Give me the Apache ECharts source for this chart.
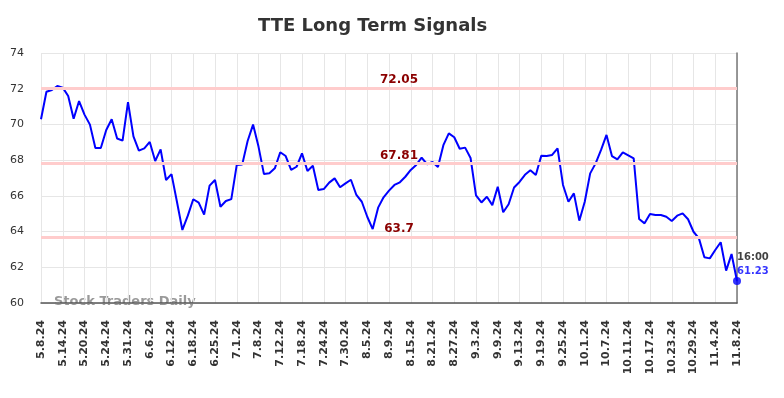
<!DOCTYPE html>
<html style="height: 100%;">
  <head>
    <meta charset="utf-8" />
  </head>
  <body style="height: 100%; margin: 0; background: #fff;">
    <div id="container" style="width: 784px; height: 398px;"></div>
    <script src="https://cdn.jsdelivr.net/npm/echarts@6/dist/echarts.min.js"></script>
    <script type="text/javascript">
      // trading days, May 8 to Nov 8 2024
      var dates = [
        "5.8.24", "5.9.24", "5.10.24", "5.13.24", "5.14.24", "5.15.24", "5.16.24", "5.17.24",
        "5.20.24", "5.21.24", "5.22.24", "5.23.24", "5.24.24", "5.28.24", "5.29.24", "5.30.24",
        "5.31.24", "6.3.24", "6.4.24", "6.5.24", "6.6.24", "6.7.24", "6.10.24", "6.11.24",
        "6.12.24", "6.13.24", "6.14.24", "6.17.24", "6.18.24", "6.20.24", "6.21.24", "6.24.24",
        "6.25.24", "6.26.24", "6.27.24", "6.28.24", "7.1.24", "7.2.24", "7.3.24", "7.5.24",
        "7.8.24", "7.9.24", "7.10.24", "7.11.24", "7.12.24", "7.15.24", "7.16.24", "7.17.24",
        "7.18.24", "7.19.24", "7.22.24", "7.23.24", "7.24.24", "7.25.24", "7.26.24", "7.29.24",
        "7.30.24", "7.31.24", "8.1.24", "8.2.24", "8.5.24", "8.6.24", "8.7.24", "8.8.24",
        "8.9.24", "8.12.24", "8.13.24", "8.14.24", "8.15.24", "8.16.24", "8.19.24", "8.20.24",
        "8.21.24", "8.22.24", "8.23.24", "8.26.24", "8.27.24", "8.28.24", "8.29.24", "8.30.24",
        "9.3.24", "9.4.24", "9.5.24", "9.6.24", "9.9.24", "9.10.24", "9.11.24", "9.12.24",
        "9.13.24", "9.16.24", "9.17.24", "9.18.24", "9.19.24", "9.20.24", "9.23.24", "9.24.24",
        "9.25.24", "9.26.24", "9.27.24", "9.30.24", "10.1.24", "10.2.24", "10.3.24", "10.4.24",
        "10.7.24", "10.8.24", "10.9.24", "10.10.24", "10.11.24", "10.14.24", "10.15.24", "10.16.24",
        "10.17.24", "10.18.24", "10.21.24", "10.22.24", "10.23.24", "10.24.24", "10.25.24", "10.28.24",
        "10.29.24", "10.30.24", "10.31.24", "11.1.24", "11.4.24", "11.5.24", "11.6.24", "11.7.24",
        "11.8.24"
      ];

      var prices = [
        70.29, 71.83, 71.93, 72.15, 72.06, 71.59, 70.32, 71.31,
        70.55, 69.99, 68.68, 68.68, 69.69, 70.29, 69.21, 69.09,
        71.25, 69.33, 68.53, 68.66, 69.02, 67.95, 68.6, 66.89,
        67.22, 65.67, 64.09, 64.89, 65.81, 65.62, 64.95, 66.57,
        66.89, 65.39, 65.71, 65.82, 67.73, 67.75, 69.07, 69.99,
        68.76, 67.22, 67.26, 67.54, 68.44, 68.23, 67.45, 67.63,
        68.38, 67.39, 67.69, 66.33, 66.38, 66.74, 66.98, 66.48,
        66.7, 66.9, 66.05, 65.67, 64.83, 64.14, 65.34, 65.92,
        66.29, 66.61, 66.76, 67.07, 67.45, 67.73, 68.14, 67.77,
        67.9, 67.62, 68.84, 69.5, 69.28, 68.64, 68.7, 68.12,
        66.03, 65.63, 65.95, 65.48, 66.51, 65.08, 65.53, 66.47,
        66.78, 67.18, 67.43, 67.17, 68.24, 68.23, 68.29, 68.66,
        66.61, 65.67, 66.14, 64.61, 65.67, 67.26, 67.82, 68.57,
        69.41, 68.23, 68.04, 68.44, 68.27, 68.1, 64.7, 64.46,
        64.98, 64.93, 64.93, 64.83, 64.59, 64.89, 65.02, 64.69,
        63.99, 63.62, 62.56, 62.5, 62.97, 63.4, 61.81, 62.74,
        61.23
      ];

      var signalLevels = [72.05, 67.81, 63.7];
      var yTicks = { min: 60, max: 74, step: 2 };
      var lastTime = "16:00";

      var dom = document.getElementById("container");
      var myChart = echarts.init(dom, null, { renderer: "canvas" });

      var lastIdx = dates.length - 1;
      var font = "DejaVu Sans";

      var option = {
        animation: false,
        backgroundColor: "#fff",
        textStyle: { fontFamily: font },
        title: {
          text: "TTE Long Term Signals",
          left: 258,
          top: 17,
          padding: 0,
          textStyle: { fontSize: 18, fontWeight: "bold", color: "#333", fontFamily: font },
        },
        grid: {
          left: 41,
          right: 47,
          top: 53,
          bottom: 95,
          containLabel: false,
          outerBoundsMode: "none",
        },
        xAxis: {
          type: "category",
          boundaryGap: false,
          data: dates,
          axisLine: { lineStyle: { color: "#555", width: 1.5 } },
          axisTick: { show: false },
          axisLabel: {
            interval: 3,
            rotate: 90,
            margin: 17,
            fontSize: 11,
            fontWeight: "bold",
            color: "#333",
            fontFamily: font,
          },
          splitLine: { show: true, interval: 3, lineStyle: { color: "#e6e6e6", width: 1 } },
        },
        yAxis: [
          {
            type: "value",
            min: yTicks.min,
            max: yTicks.max,
            interval: yTicks.step,
            axisLine: { show: false },
            axisTick: { show: false },
            axisLabel: { fontSize: 11, color: "#333", margin: 17, fontFamily: font },
            splitLine: { lineStyle: { color: "#e6e6e6", width: 1 } },
          },
          {
            type: "value",
            position: "right",
            min: yTicks.min,
            max: yTicks.max,
            interval: yTicks.step,
            axisLine: { show: true, lineStyle: { color: "#777", width: 1.5 } },
            axisTick: { show: false },
            axisLabel: { show: false },
            splitLine: { show: false },
          },
        ],
        graphic: [
          {
            type: "text",
            left: 54,
            top: 295,
            z: 0,
            style: {
              text: "Stock Traders Daily",
              fill: "#9a9a9a",
              font: "bold 13px DejaVu Sans",
            },
          },
        ],
        series: [
          {
            type: "line",
            data: prices,
            showSymbol: false,
            lineStyle: { color: "#0000ff", width: 2 },
            itemStyle: { color: "#0000ff" },
            z: 3,
            markLine: {
              silent: true,
              symbol: "none",
              lineStyle: { color: "#ffcccc", width: 3, type: "solid" },
              label: {
                position: "middle",
                distance: 2,
                padding: [0, 0, 0, 20], // nudges the centred text to the right
                color: "#8b0000",
                fontWeight: "bold",
                fontSize: 12,
                fontFamily: font,
                formatter: function (p) {
                  return p.value;
                },
              },
              data: signalLevels.map(function (v) {
                return { yAxis: v };
              }),
            },
          },
          {
            type: "scatter",
            data: [[dates[lastIdx], prices[lastIdx]]],
            symbolSize: 8,
            itemStyle: { color: "#0000ff" },
            z: 4,
            label: {
              show: true,
              position: [4, -27],
              formatter: "{t|" + lastTime + "}\n{v|" + prices[lastIdx] + "}",
              rich: {
                t: { color: "#111", fontWeight: "bold", fontSize: 10, lineHeight: 14, fontFamily: font },
                v: { color: "#0000ff", fontWeight: "bold", fontSize: 10, lineHeight: 14, fontFamily: font },
              },
            },
          },
        ],
      };

      myChart.setOption(option);
    </script>
  </body>
</html>
